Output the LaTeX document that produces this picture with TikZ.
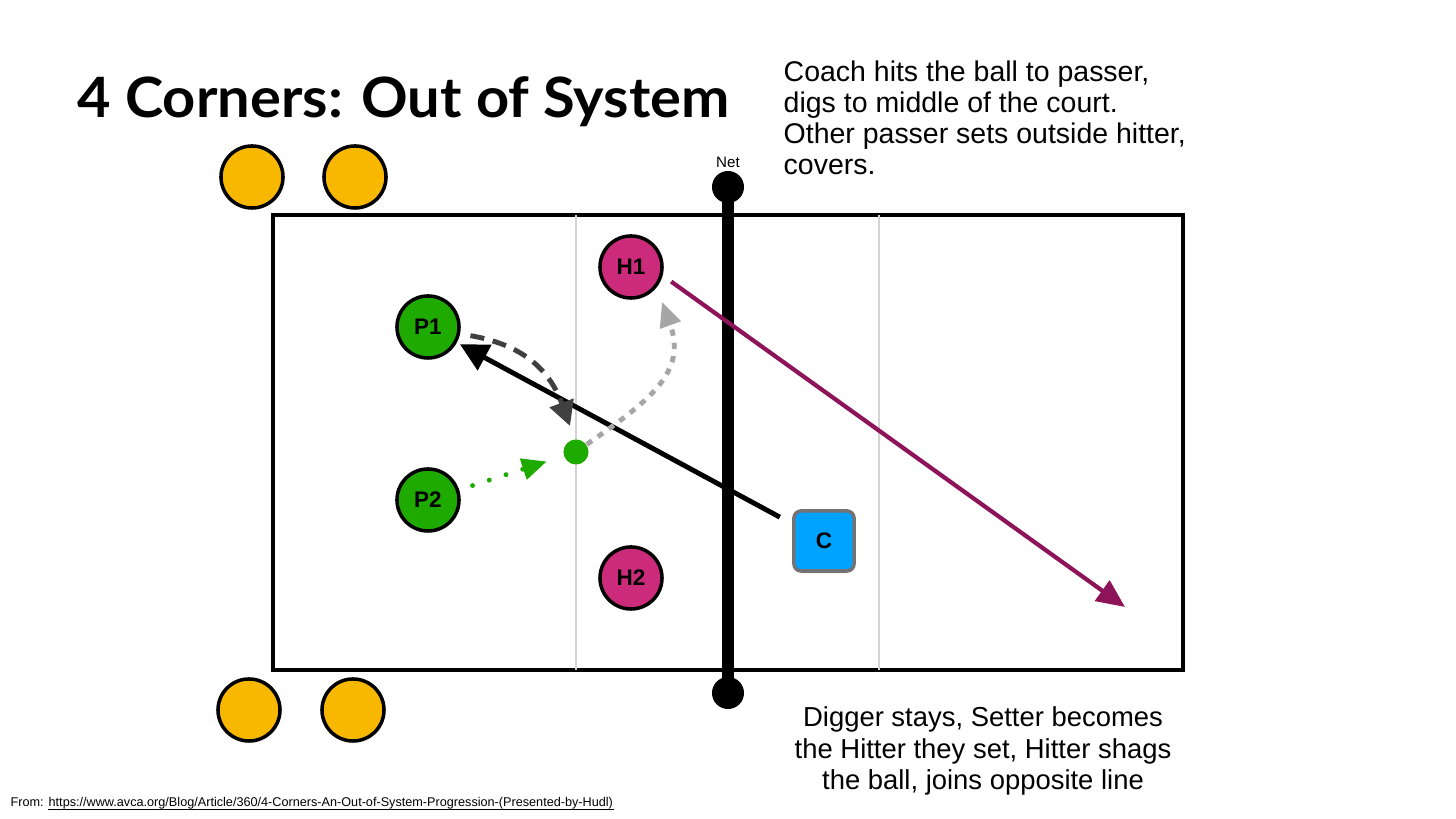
\documentclass[tikz,border=0pt]{standalone}
\usepackage{fontspec}
\setmainfont{Liberation Sans}
\newfontfamily\titlefont{Lato}[FakeStretch=1.04]
\usetikzlibrary{arrows.meta}

\definecolor{lineyellow}{HTML}{F8B800}
\definecolor{passgreen}{HTML}{1FAA00}
\definecolor{hitpink}{HTML}{CC2A7A}
\definecolor{coachblue}{HTML}{00A2FF}
\definecolor{hitpurple}{HTML}{8E1459}
\definecolor{courtgray}{HTML}{D4D4D4}

\tikzset{
  player/.style = {circle, draw=black, line width=1pt, minimum size=0.62cm,
    inner sep=0pt, font=\fontsize{6.4}{7}\selectfont\bfseries},
  waiting/.style = {player, fill=lineyellow},
  passer/.style = {player, fill=passgreen},
  hitter/.style = {player, fill=hitpink},
  coach/.style = {rectangle, rounded corners=2pt, draw=black!55, line width=1pt,
    fill=coachblue, minimum size=0.6cm, inner sep=0pt,
    font=\fontsize{6.4}{7}\selectfont\bfseries},
  post/.style = {circle, fill=black, minimum size=0.32cm, inner sep=0pt},
  note/.style = {inner sep=0pt}
}

\begin{document}
\begin{tikzpicture}[x=0.01cm,y=-0.01cm]
% canvas in pixels of the slide
\useasboundingbox (0,0) rectangle (1456,819);

% title
\node[anchor=base west, inner sep=0pt, font=\titlefont\bfseries\fontsize{15.8}{18}\selectfont]
  (title) at (77,118) {4 Corners: Out of System};

% court
\draw[line width=0.9pt] (273,215) rectangle (1183,670);
\foreach \x in {576,879}
  \draw[courtgray, line width=0.85pt] (\x,215) -- (\x,670);

% net
\node[post] (nettop) at (728,187) {};
\node[post] (netbot) at (728,693) {};
\draw[line width=3.4pt] (nettop.center) -- (netbot.center);
\node[font=\fontsize{4.3}{5}\selectfont] (netlabel) at (728,162) {Net};

% lines waiting outside
\node[waiting] (Y1) at (252,177) {};
\node[waiting] (Y2) at (355,177) {};
\node[waiting] (Y3) at (249,710) {};
\node[waiting] (Y4) at (353,710) {};

% players on court
\node[passer] (P1) at (428,327) {P1};
\node[passer] (P2) at (428,500) {P2};
\node[hitter] (H1) at (631,267) {H1};
\node[hitter] (H2) at (631,578) {H2};
\node[coach] (C) at (824,541) {C};
\node[circle, fill=passgreen, minimum size=0.25cm, inner sep=0pt] (dig) at (576,452) {};

% free ends of the arrows
\coordinate (digtip) at (570,426);
\coordinate (settip) at (662,302);
\coordinate (shag) at (1125,607);

% coach hits to passer
\draw[line width=1.4pt, -{Triangle[length=8pt,width=8pt]}, shorten <=4pt, shorten >=1pt]
  (C) -- (P1);
% passer digs to middle
\draw[black!75, line width=1.4pt, dash pattern=on 4pt off 2.5pt,
  -{Triangle[length=7pt,width=7pt]}, shorten <=3pt]
  (P1.-12) to[out=-10, in=110, looseness=1.1] (digtip);
% other passer moves to set
\draw[passgreen, line width=1.4pt, line cap=round, dash pattern=on 0pt off 5pt,
  -{Triangle[length=7pt,width=6pt]}, shorten <=4pt, shorten >=5pt]
  (P2) -- (dig);
% set to outside hitter
\draw[black!35, line width=1.4pt, dash pattern=on 1.8pt off 2pt,
  -{Triangle[length=7pt,width=6pt]}]
  (dig.35) to[out=35, in=-70, looseness=1.2] (settip);
% attack
\draw[hitpurple, line width=1.2pt, -{Triangle[length=8pt,width=7pt]}, shorten <=3pt]
  (H1.-15) -- (shag);

% notes
\node[note, anchor=base west, align=left, font=\fontsize{8.1}{8.85}\selectfont] (note1) at (783,175)
  {Coach hits the ball to passer,\\digs to middle of the court.\\Other passer sets outside hitter,\\covers.};
\node[note, anchor=base, align=center, font=\fontsize{7.8}{9}\selectfont] (note2) at (983,790)
  {Digger stays, Setter becomes\\the Hitter they set, Hitter shags\\the ball, joins opposite line};

% source
\node[anchor=base west, inner sep=0pt, font=\fontsize{3.6}{4}\selectfont] (from) at (10,807) {From:};
\node[anchor=base west, inner sep=0pt, font=\fontsize{3.6}{4}\selectfont] (url) at ([xshift=1pt]from.base east)
  {https://www.avca.org/Blog/Article/360/4-Corners-An-Out-of-System-Progression-(Presented-by-Hudl)};
\draw[line width=0.25pt] ([yshift=-0.6pt]url.base west) -- ([yshift=-0.6pt]url.base east);
\end{tikzpicture}
\end{document}
